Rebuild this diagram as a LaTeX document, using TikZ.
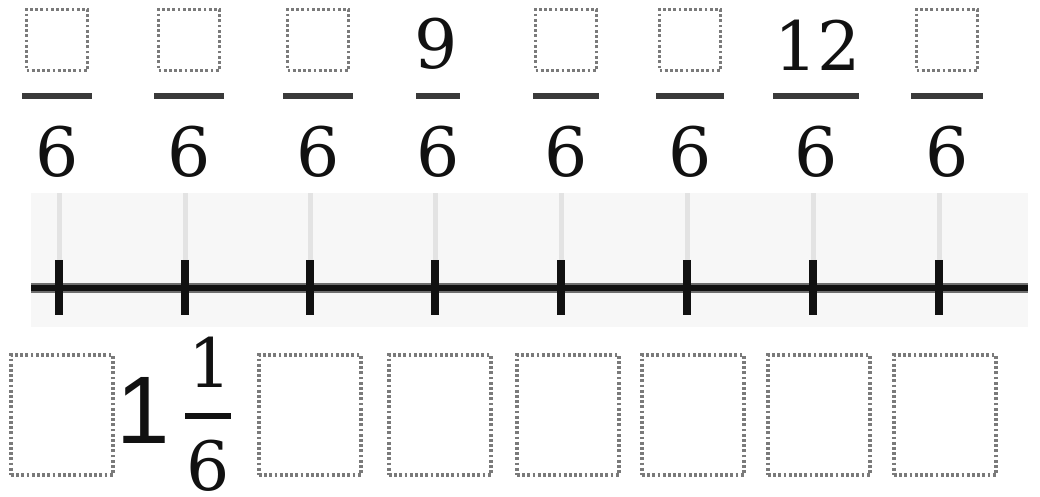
\documentclass[tikz,border=0pt]{standalone}
\usepackage{fontspec}
\newfontfamily\wholefont{Liberation Sans}
\newfontfamily\digitfont{DejaVu Serif}
\usetikzlibrary{positioning}
\definecolor{ink}{HTML}{111111}
\definecolor{dots}{HTML}{7A7A7A}
\definecolor{panel}{HTML}{F7F7F7}
\definecolor{grid}{HTML}{E3E3E3}
\definecolor{barink}{HTML}{3A3A3A}
\definecolor{halo}{HTML}{6E6E6E}
\tikzset{
  digit/.style={inner sep=0pt,text=ink,font=\digitfont\fontsize{34}{34}\selectfont},
  slot/.style={draw=dots,line width=1.6pt,dash pattern=on 1.4pt off 1.2pt,
               minimum width=30.5pt,minimum height=30.5pt,inner sep=0pt},
  bigslot/.style={slot,minimum width=51pt,minimum height=60pt},
  fracbar/.style={draw=barink,line width=2.8pt},
  gridline/.style={draw=grid,line width=2.5pt},
  tickmark/.style={draw=ink,line width=4pt},
  axisline/.style={draw=ink,line width=2.8pt}
}
\begin{document}
\begin{tikzpicture}[x=0.5pt,y=-0.5pt]
  \useasboundingbox (0,0) rectangle (1040,497);
  \foreach \i/\x in {1/57,2/189,3/318,5/566,6/690,8/947}{
    \node[slot] (num\i) at (\x,40) {};}
  \node[digit] (num4) at (436,44) {9};
  \node[digit] (num7) at (818,45) {12};
  \foreach \i/\x/\w in {1/57/35,2/189/35,3/318/35,4/438/22,5/566/33,6/690/34,7/816/43,8/947/36}{
    \node[digit] (den\i) at (\x,152) {6};
    \draw[fracbar] (\x-\w,96) -- (\x+\w,96);}
  \fill[panel] (31,193) rectangle (1028,327);
  \foreach \i/\x in {1/59,2/185,3/310,4/435,5/561,6/687,7/813,8/939}{
    \draw[gridline] (\x,193) -- (\x,260);
    \coordinate (t\i) at (\x,288);}
  \draw[axisline,draw=halo,line width=5pt] (31,288) -- (1028,288);
  \draw[axisline] (31,288) -- (1028,288);
  \foreach \i in {1,...,8}{
    \draw[tickmark] ([yshift=14pt]t\i) -- ([yshift=-13.5pt]t\i);}
  \foreach \i/\x in {1/62,3/310,4/440,5/568,6/693,7/819,8/945}{
    \node[bigslot] (ans\i) at (\x,415) {};}
  \node[inner sep=0pt,text=ink,font=\wholefont\fontsize{48}{48}\selectfont] (whole) at (143,410) {1};
  \node[digit] (fnum) at (210,362) {1};
  \node[digit] (fden) at (208,466) {6};
  \draw[fracbar,draw=ink] (185,416) -- (231,416);
\end{tikzpicture}
\end{document}
